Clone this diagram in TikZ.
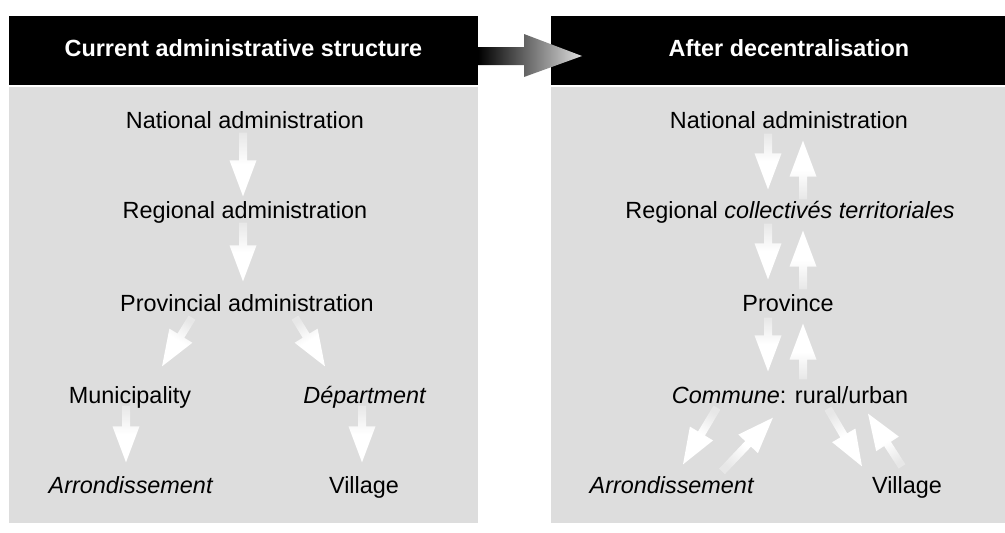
\documentclass[tikz,border=0pt]{standalone}
\usepackage{fontspec}
\setmainfont{Liberation Sans}
\usetikzlibrary{calc}

\definecolor{panelgray}{RGB}{221,221,221}

\tikzset{
  lbl/.style={font=\fontsize{23.4}{28}\selectfont, inner sep=0pt, text height=16.8pt, text depth=0pt},
  headtxt/.style={lbl, font=\fontsize{23.4}{28}\selectfont\bfseries, text=white},
  headbar/.style={fill=black},
  panel/.style={fill=panelgray},
  fadearrow/.style={shading=axis, bottom color=panelgray!70!white, top color=white, middle color=white},
  fa/.style={shift={(fat)}, rotate=\faang}
}

% white arrow fading out towards its tail
\newcommand\gradarrow[2]{%
  \path #1 coordinate (fat) #2 coordinate (fah);
  \pgfpointdiff{\pgfpointanchor{fat}{center}}{\pgfpointanchor{fah}{center}}%
  \pgfgetlastxy\fadx\fady
  \pgfmathsetmacro\falen{veclen(\fadx,\fady)}%
  \pgfmathsetmacro\faang{atan2(\fady,\fadx)}%
  \pgfmathsetmacro\fashade{\faang-90}%
  \pgfmathsetmacro\fabase{\falen-36}%
  \shade[fadearrow, shading angle=\fashade]
    ([fa]0,-4) -- ([fa]\fabase,-4) -- ([fa]\fabase,-13.5) -- ([fa]\falen,0)
    -- ([fa]\fabase,13.5) -- ([fa]\fabase,4) -- ([fa]0,4) -- cycle;
}

\begin{document}
\begin{tikzpicture}[x=1pt,y=-1pt]

\useasboundingbox (0,0) rectangle (1005,533);

\fill[headbar] (9,16) rectangle (478,85);
\fill[headbar] (551,16) rectangle (1005,85);
\fill[panel] (9,87) rectangle (478,523);
\fill[panel] (551,87) rectangle (1005,523);

\node[headtxt] (lhead) at (243.5,48) {Current administrative structure};
\node[headtxt] (rhead) at (789,48) {After decentralisation};

% arrow between the two panels
\shade[left color=black, right color=gray!25]
  (478,47) -- (524,47) -- (524,34) -- (582,56) -- (524,77) -- (524,65) -- (478,65) -- cycle;

% current structure
\node[lbl] (lnat) at (245,120) {National administration};
\node[lbl] (lreg) at (245,210) {Regional administration};
\node[lbl] (lprov) at (247,303) {Provincial administration};
\node[lbl] (lmun) at (130,395) {Municipality};
\node[lbl] (ldep) at (365,395) {\textit{Départment}};
\node[lbl] (larr) at (131,485) {\textit{Arrondissement}};
\node[lbl] (lvil) at (364,485) {Village};

\gradarrow{([shift={(-2,4)}]lnat.south)}{([shift={(-2,-5)}]lreg.north)}
\gradarrow{([shift={(-2,4)}]lreg.south)}{([shift={(-4,-13)}]lprov.north)}
\gradarrow{([shift={(-55,6)}]lprov.south)}{([shift={(32,-20)}]lmun.north)}
\gradarrow{([shift={(48,6)}]lprov.south)}{([shift={(-40,-20)}]ldep.north)}
\gradarrow{([shift={(-4,2)}]lmun.south)}{([shift={(-5,-14)}]larr.north)}
\gradarrow{([shift={(-3,2)}]ldep.south)}{([shift={(-2,-14)}]lvil.north)}

% after decentralisation
\node[lbl] (rnat) at (789,120) {National administration};
\node[lbl] (rreg) at (790,210) {Regional \textit{collectivés territoriales}};
\node[lbl] (rprov) at (788,303) {Province};
\node[lbl] (rcom) at (790,395) {\textit{Commune}: rural/urban};
\node[lbl] (rarr) at (672,485) {\textit{Arrondissement}};
\node[lbl] (rvil) at (907,485) {Village};

\gradarrow{([shift={(-21,5)}]rnat.south)}{([shift={(-22,-12)}]rreg.north)}
\gradarrow{([shift={(13,-2)}]rreg.north)}{([shift={(14,12)}]rnat.south)}
\gradarrow{([shift={(-22,5)}]rreg.south)}{([shift={(-20,-15)}]rprov.north)}
\gradarrow{([shift={(15,-5)}]rprov.north)}{([shift={(13,12)}]rreg.south)}
\gradarrow{([shift={(-20,6)}]rprov.south)}{([shift={(-22,-15)}]rcom.north)}
\gradarrow{([shift={(13,-7)}]rcom.north)}{([shift={(15,12)}]rprov.south)}
\gradarrow{([shift={(-73,4)}]rcom.south)}{([shift={(11,-12)}]rarr.north)}
\gradarrow{([shift={(50,-5)}]rarr.north)}{([shift={(-17,14)}]rcom.south)}
\gradarrow{([shift={(38,5)}]rcom.south)}{([shift={(-45,-10)}]rvil.north)}
\gradarrow{([shift={(-5,-10)}]rvil.north)}{([shift={(78,10)}]rcom.south)}

\end{tikzpicture}
\end{document}
